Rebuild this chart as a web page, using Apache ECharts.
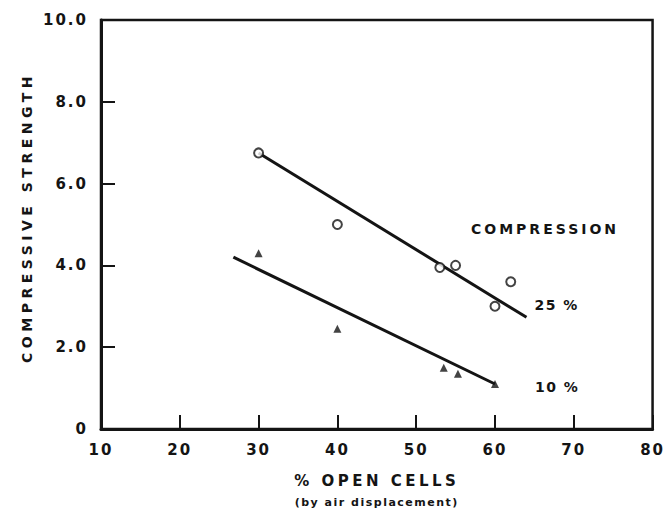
<!DOCTYPE html>
<html>
<head>
<meta charset="utf-8">
<script src="https://cdn.jsdelivr.net/npm/echarts@6/dist/echarts.min.js"></script>
<style>
  html, body { margin: 0; padding: 0; background: #fff; }
  #chart { width: 666px; height: 516px; }
</style>
</head>
<body>
<div id="chart"></div>
<script>
// Measured points, 25 % compression (open circles)
const openCells25 = [30, 40, 53, 55, 60, 62];
const strength25 = [6.75, 5.0, 3.95, 4.0, 3.0, 3.6];
// Measured points, 10 % compression (filled triangles)
const openCells10 = [30, 40, 53.5, 55.3, 60];
const strength10 = [4.3, 2.45, 1.5, 1.35, 1.1];
// Fitted trend lines (end points)
const fit25X = [30, 64];
const fit25Y = [6.75, 2.73];
const fit10X = [26.8, 60];
const fit10Y = [4.2, 1.1];
// Axis ticks
const xTicks = [10, 20, 30, 40, 50, 60, 70, 80];
const yTicks = [0, 2, 4, 6, 8, 10];
const seriesLabels = ['25 %', '10 %'];
const noteText = 'COMPRESSION';

const ink = '#141414';
const font = '"DejaVu Sans", "Liberation Sans", sans-serif';

const pairs = (xs, ys) => xs.map((x, i) => [x, ys[i]]);

const chart = echarts.init(document.getElementById('chart'), null, { renderer: 'svg' });

chart.setOption({
  animation: false,
  backgroundColor: '#ffffff',
  grid: {
    left: 101, right: 11, top: 20, bottom: 87,
    show: true, borderColor: ink, borderWidth: 2.5
  },
  xAxis: {
    type: 'value',
    min: xTicks[0], max: xTicks[xTicks.length - 1], interval: 10,
    splitLine: { show: false },
    axisLine: { lineStyle: { color: ink, width: 3 } },
    axisTick: { inside: true, length: 14, lineStyle: { color: ink, width: 2 } },
    axisLabel: { color: ink, fontFamily: font, fontWeight: 'bold', fontSize: 15, margin: 13 },
    name: '{a|% OPEN CELLS}\n{b|(by air displacement)}',
    nameLocation: 'middle',
    nameGap: 41,
    nameTextStyle: {
      color: ink,
      rich: {
        a: { fontFamily: font, fontWeight: 'bold', fontSize: 15, lineHeight: 22, color: ink },
        b: { fontFamily: font, fontWeight: 'bold', fontSize: 11, lineHeight: 20, color: ink }
      }
    }
  },
  yAxis: {
    type: 'value',
    min: yTicks[0], max: yTicks[yTicks.length - 1], interval: 2,
    splitLine: { show: false },
    axisLine: { show: true, lineStyle: { color: ink, width: 3 } },
    axisTick: { show: true, inside: true, length: 14, lineStyle: { color: ink, width: 2 } },
    axisLabel: {
      color: ink, fontFamily: font, fontWeight: 'bold', fontSize: 15, margin: 13,
      formatter: v => (v === 0 ? '0' : v.toFixed(1))
    },
    name: 'COMPRESSIVE STRENGTH',
    nameLocation: 'middle',
    nameRotate: 90,
    nameGap: 67,
    nameTextStyle: { color: ink, fontFamily: font, fontWeight: 'bold', fontSize: 14, padding: [0, 0, 0, 14] }
  },
  graphic: [
    {
      type: 'text', left: 471, top: 222,
      style: { text: noteText, fill: ink, font: 'bold 14px ' + font }
    }
  ],
  series: [
    {
      type: 'line', data: pairs(fit25X, fit25Y), showSymbol: false, symbol: 'none',
      lineStyle: { color: ink, width: 3 },
      endLabel: { show: true, formatter: seriesLabels[0], color: ink, fontFamily: font,
                  fontWeight: 'bold', fontSize: 14, offset: [0, -12] },
      z: 2
    },
    {
      type: 'line', data: pairs(fit10X, fit10Y), showSymbol: false, symbol: 'none',
      lineStyle: { color: ink, width: 3 },
      endLabel: { show: true, formatter: seriesLabels[1], color: ink, fontFamily: font,
                  fontWeight: 'bold', fontSize: 14, offset: [32, 3] },
      z: 2
    },
    {
      type: 'scatter', data: pairs(openCells25, strength25),
      symbol: 'circle', symbolSize: 9,
      itemStyle: { color: '#ffffff', borderColor: ink, borderWidth: 2 },
      z: 3
    },
    {
      type: 'scatter', data: pairs(openCells10, strength10),
      symbol: 'triangle', symbolSize: 8,
      itemStyle: { color: ink },
      z: 3
    }
  ]
});

// Wide, lettering-guide style spacing for the SVG text
function spaceLetters() {
  const nodes = document.querySelectorAll('#chart svg text');
  nodes.forEach(n => {
    const t = n.textContent || '';
    let s = 2;
    if (t.indexOf('COMPRESSIVE') >= 0) s = 4.5;
    else if (t === noteText) s = 3;
    else if (t.indexOf('by air') >= 0) s = 1.5;
    else if (t.indexOf('OPEN') >= 0) s = 3.5;
    else if (t.indexOf('%') >= 0) s = 1.5;
    n.style.letterSpacing = s + 'px';
  });
}
chart.on('finished', spaceLetters);
spaceLetters();
</script>
</body>
</html>
